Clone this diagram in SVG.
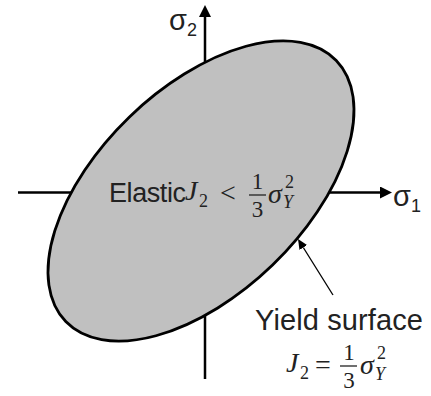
<svg xmlns="http://www.w3.org/2000/svg" width="431" height="396" viewBox="0 0 431 396">
  <style>
    .axis { stroke: #000; stroke-width: 2.5; fill: none; }
    .pointer { stroke: #000; stroke-width: 1.3; fill: none; }
    .sans { font-family: "Liberation Sans", Arial, sans-serif; fill: #222; }
    .mi { font-family: "Liberation Serif", "Times New Roman", serif; font-style: italic; fill: #222; }
    .mn { font-family: "Liberation Serif", "Times New Roman", serif; fill: #222; }
    .bar { stroke: #222; stroke-width: 1.3; }
  </style>
  <defs>
    <marker id="axisHead" viewBox="0 0 12 12" markerUnits="userSpaceOnUse" markerWidth="12" markerHeight="12" refX="0" refY="6" orient="auto">
      <path d="M0,0 L12,6 L0,12 z" fill="#000"/>
    </marker>
    <marker id="ptrHead" viewBox="0 0 10 9" markerUnits="userSpaceOnUse" markerWidth="10" markerHeight="9" refX="0" refY="4.5" orient="auto">
      <path d="M0,0 L10,4.5 L0,9 z" fill="#000"/>
    </marker>
  </defs>

  <g id="connectors">
    <line id="axis-s1" class="axis" x1="18" y1="192.5" x2="380" y2="192.5" marker-end="url(#axisHead)"/>
    <line id="axis-s2" class="axis" x1="205" y1="379" x2="205" y2="17" marker-end="url(#axisHead)"/>
  </g>

  <g id="yield-ellipse">
    <ellipse cx="201" cy="191" rx="188" ry="103" transform="rotate(-44 201 191)" fill="#c0c0c0" stroke="#000" stroke-width="2.8"/>
  </g>

  <g id="pointer-connector">
    <line class="pointer" x1="333" y1="295" x2="303.3" y2="247.5" marker-end="url(#ptrHead)"/>
  </g>

  <g id="label-s2">
    <text class="sans" x="169" y="30" font-size="29">σ</text>
    <text class="sans" x="187" y="36" font-size="18">2</text>
  </g>

  <g id="label-s1">
    <text class="sans" x="393" y="206" font-size="29">σ</text>
    <text class="sans" x="411" y="212" font-size="18">1</text>
  </g>

  <g id="elastic-label">
    <text class="sans" x="109" y="202" font-size="27" textLength="77">Elastic</text>
    <text class="mi" x="185" y="200" font-size="28">J</text>
    <text class="mn" x="199" y="207" font-size="18">2</text>
    <text class="mn" x="220" y="202" font-size="28">&lt;</text>
    <text class="mn" x="257.5" y="189" font-size="23" text-anchor="middle">1</text>
    <line class="bar" x1="249" y1="195" x2="266" y2="195"/>
    <text class="mn" x="257.5" y="217" font-size="23" text-anchor="middle">3</text>
    <text class="mi" x="268" y="203" font-size="28">σ</text>
    <text class="mn" x="285" y="188" font-size="18">2</text>
    <text class="mi" x="283" y="208" font-size="18">Y</text>
  </g>

  <g id="yield-label">
    <text class="sans" x="255" y="330" font-size="29" textLength="168">Yield surface</text>
    <text class="mi" x="286" y="372" font-size="28">J</text>
    <text class="mn" x="300" y="379" font-size="18">2</text>
    <text class="mn" x="315" y="374" font-size="28">=</text>
    <text class="mn" x="349" y="360" font-size="23" text-anchor="middle">1</text>
    <line class="bar" x1="340" y1="366" x2="357" y2="366"/>
    <text class="mn" x="349" y="388" font-size="23" text-anchor="middle">3</text>
    <text class="mi" x="360" y="374" font-size="28">σ</text>
    <text class="mn" x="377" y="359" font-size="18">2</text>
    <text class="mi" x="375" y="380" font-size="18">Y</text>
  </g>
</svg>
